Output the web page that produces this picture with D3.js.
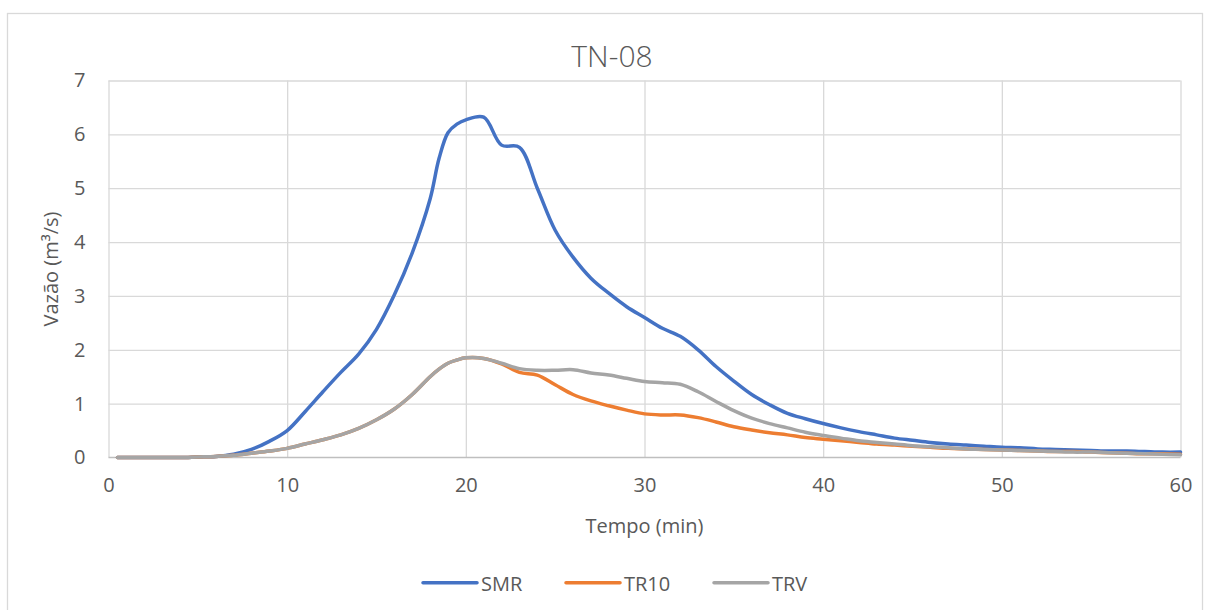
<!DOCTYPE html>
<html>
<head>
<meta charset="utf-8">
<script src="https://cdn.jsdelivr.net/npm/d3@7"></script>
<style>
  html, body { margin: 0; padding: 0; background: #ffffff; }
  svg { display: block; font-family: "Open Sans", "Noto Sans", sans-serif; }
</style>
</head>
<body>
<svg id="chart" width="1205" height="610"></svg>
<script>
// Time axis (minutes)
const tempo = [0.5, 1, 2, 3, 4, 5, 6, 7, 8, 9, 10, 11, 12, 13, 14, 15, 16, 17, 18, 18.5, 19, 19.5, 20,
  21, 22, 23, 24, 25, 26, 27, 28, 29, 30, 31, 32, 33, 34, 35, 36, 37, 38, 39, 40,
  41, 42, 43, 44, 45, 46, 47, 48, 49, 50, 51, 52, 53, 54, 55, 56, 57, 58, 59, 60];

// Discharge (m³/s) per hydrograph
const smr = [0, 0, 0, 0, 0, 0.01, 0.02, 0.06, 0.15, 0.30, 0.50, 0.85, 1.22, 1.58, 1.92, 2.38, 3.02, 3.80, 4.80, 5.55, 6.03, 6.19, 6.27,
  6.32, 5.80, 5.76, 5.00, 4.22, 3.72, 3.33, 3.05, 2.80, 2.60, 2.40, 2.25, 2.00, 1.69, 1.42, 1.17, 0.98, 0.82, 0.72, 0.63,
  0.55, 0.48, 0.42, 0.36, 0.32, 0.28, 0.25, 0.23, 0.21, 0.19, 0.18, 0.16, 0.15, 0.14, 0.13, 0.12, 0.12, 0.11, 0.10, 0.10];

const tr10 = [0, 0, 0, 0, 0, 0.01, 0.02, 0.04, 0.08, 0.12, 0.17, 0.25, 0.33, 0.42, 0.54, 0.70, 0.90, 1.17, 1.50, 1.64, 1.75, 1.81, 1.85,
  1.84, 1.74, 1.58, 1.53, 1.35, 1.17, 1.05, 0.96, 0.88, 0.81, 0.79, 0.79, 0.74, 0.66, 0.57, 0.51, 0.46, 0.42, 0.37, 0.34,
  0.31, 0.28, 0.25, 0.23, 0.21, 0.19, 0.17, 0.16, 0.15, 0.14, 0.13, 0.12, 0.11, 0.11, 0.10, 0.09, 0.08, 0.07, 0.07, 0.06];

const trv = [0, 0, 0, 0, 0, 0.01, 0.02, 0.04, 0.08, 0.12, 0.17, 0.25, 0.33, 0.42, 0.54, 0.70, 0.90, 1.17, 1.50, 1.64, 1.75, 1.81, 1.85,
  1.84, 1.75, 1.65, 1.62, 1.62, 1.63, 1.57, 1.53, 1.47, 1.41, 1.39, 1.36, 1.22, 1.04, 0.87, 0.73, 0.63, 0.55, 0.47, 0.41,
  0.36, 0.31, 0.28, 0.25, 0.22, 0.20, 0.18, 0.16, 0.15, 0.14, 0.13, 0.12, 0.11, 0.10, 0.10, 0.09, 0.08, 0.07, 0.06, 0.05];

const seriesNames = ["SMR", "TR10", "TRV"];
const seriesColors = ["#4472C4", "#ED7D31", "#A5A5A5"];
const xTicks = [0, 10, 20, 30, 40, 50, 60];
const yTicks = [0, 1, 2, 3, 4, 5, 6, 7];

const series = [smr, tr10, trv].map((vals, i) => ({
  name: seriesNames[i],
  color: seriesColors[i],
  points: tempo.map((t, j) => ({ t, v: vals[j] }))
}));

const svg = d3.select("#chart");
const plot = { left: 108.5, right: 1180.5, top: 80.5, bottom: 457.5 };

const x = d3.scaleLinear().domain([0, 60]).range([plot.left, plot.right]);
const y = d3.scaleLinear().domain([0, 7]).range([plot.bottom, plot.top]);

// Chart frame
svg.append("rect")
  .attr("x", 7.5).attr("y", 13.5)
  .attr("width", 1195).attr("height", 620)
  .attr("fill", "#ffffff")
  .attr("stroke", "#d9d9d9").attr("stroke-width", 1.3);

// Title
svg.append("text")
  .attr("x", 612)
  .attr("y", 67)
  .attr("text-anchor", "middle")
  .attr("font-size", 30)
  .attr("font-weight", 300)
  .attr("fill", "#595959")
  .text("TN-08");

// Horizontal gridlines + y tick labels
const yAxis = d3.axisLeft(y).tickValues(yTicks).tickFormat(d3.format("d"))
  .tickSize(-(plot.right - plot.left)).tickPadding(23);
const gy = svg.append("g").attr("transform", `translate(${plot.left},0)`).call(yAxis);
gy.select(".domain").remove();
gy.selectAll(".tick line").attr("stroke", "#d9d9d9").attr("stroke-width", 1.3);
gy.selectAll(".tick text").attr("font-size", 20).attr("fill", "#595959")
  .attr("font-family", "Open Sans, sans-serif");
gy.selectAll(".tick").filter(d => d === 0).select("line").remove();

// Vertical gridlines + x tick labels
const xAxis = d3.axisBottom(x).tickValues(xTicks).tickFormat(d3.format("d"))
  .tickSize(-(plot.bottom - plot.top)).tickPadding(20);
const gx = svg.append("g").attr("transform", `translate(0,${plot.bottom})`).call(xAxis);
gx.select(".domain").remove();
gx.selectAll(".tick line").attr("stroke", "#d9d9d9").attr("stroke-width", 1.3);
gx.selectAll(".tick text").attr("font-size", 20).attr("fill", "#595959")
  .attr("font-family", "Open Sans, sans-serif");

// Category (bottom) axis line
svg.append("line")
  .attr("x1", plot.left).attr("x2", plot.right)
  .attr("y1", plot.bottom).attr("y2", plot.bottom)
  .attr("stroke", "#bfbfbf").attr("stroke-width", 1.6);

// Axis titles
svg.append("text")
  .attr("x", (plot.left + plot.right) / 2)
  .attr("y", 533)
  .attr("text-anchor", "middle")
  .attr("font-size", 20)
  .attr("fill", "#595959")
  .text("Tempo (min)");

svg.append("text")
  .attr("transform", `translate(58,${(plot.top + plot.bottom) / 2}) rotate(-90)`)
  .attr("text-anchor", "middle")
  .attr("font-size", 20)
  .attr("fill", "#595959")
  .text("Vazão (m³/s)");

// Series lines
const line = d3.line()
  .x(d => x(d.t))
  .y(d => y(d.v))
  .curve(d3.curveCatmullRom.alpha(0.5));

svg.append("g").selectAll("path")
  .data(series)
  .join("path")
  .attr("d", d => line(d.points))
  .attr("fill", "none")
  .attr("stroke", d => d.color)
  .attr("stroke-width", 3.5)
  .attr("stroke-linejoin", "round")
  .attr("stroke-linecap", "round");

// Legend
const legendX = [423, 566, 714];
const legend = svg.append("g");
series.forEach((s, i) => {
  const g = legend.append("g").attr("transform", `translate(${legendX[i]},582.7)`);
  g.append("line")
    .attr("x1", 0).attr("x2", 54)
    .attr("y1", 0).attr("y2", 0)
    .attr("stroke", s.color).attr("stroke-width", 3.5)
    .attr("stroke-linecap", "round");
  g.append("text")
    .attr("x", 58).attr("y", 8)
    .attr("font-size", 20)
    .attr("fill", "#595959")
    .text(s.name);
});
</script>
</body>
</html>
